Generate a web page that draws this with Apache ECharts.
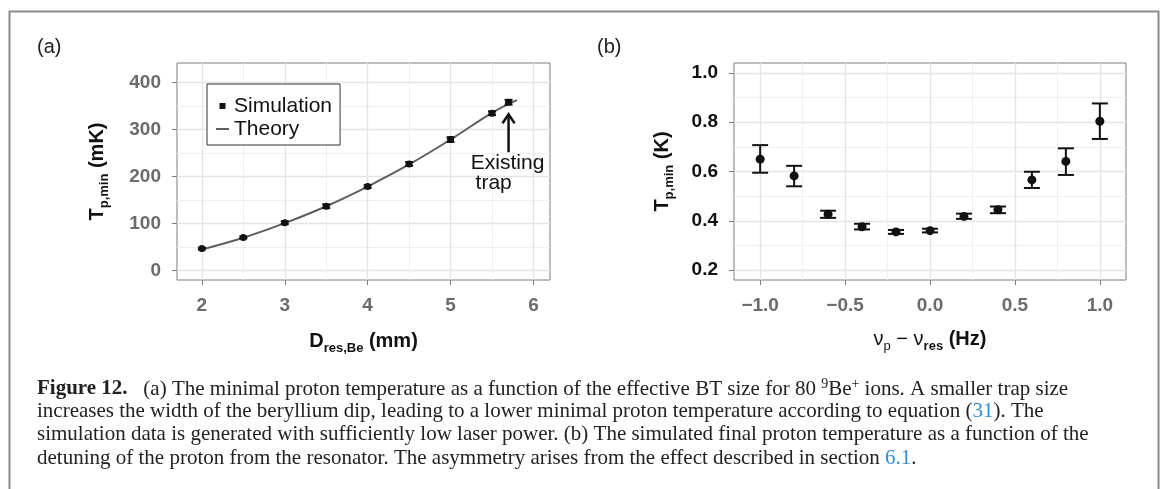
<!DOCTYPE html>
<html>
<head>
<meta charset="utf-8">
<script src="https://cdn.jsdelivr.net/npm/echarts@6/dist/echarts.min.js"></script>
<style>
  html, body { margin: 0; padding: 0; background: #fff; }
  #chart { width: 1163px; height: 489px; }
</style>
</head>
<body>
<div id="chart"></div>
<script>
// panel (a): minimal proton temperature vs trap size
const simX = [2, 2.5, 3, 3.5, 4, 4.5, 5, 5.5, 5.7];
const simY = [47, 70.5, 102, 137, 179, 227, 279, 335, 358.5];
const simErr = [2, 2, 3, 4, 3, 4, 5, 4, 5];
const theoryX = [2, 2.5, 3, 3.5, 4, 4.5, 5, 5.5, 5.8];
const theoryY = [45, 70, 101, 137, 179, 226, 279, 336, 363];
const arrowAt = [5.7, 252, 333]; // x, shaft bottom, tip

// panel (b): temperature vs detuning
const detX = [-1.0, -0.8, -0.6, -0.4, -0.2, 0.0, 0.2, 0.4, 0.6, 0.8, 1.0];
const detY = [0.650, 0.582, 0.427, 0.376, 0.355, 0.360, 0.418, 0.445, 0.566, 0.641, 0.804];
const detLo = [0.595, 0.540, 0.412, 0.365, 0.347, 0.353, 0.408, 0.431, 0.533, 0.586, 0.732];
const detHi = [0.707, 0.623, 0.441, 0.388, 0.363, 0.368, 0.429, 0.458, 0.599, 0.694, 0.876];

const ticksAX = [2, 3, 4, 5, 6];
const minorAX = [2.5, 3.5, 4.5, 5.5];
const ticksAY = [0, 100, 200, 300, 400];
const minorAY = [50, 150, 250, 350];
const ticksBX = [-1, -0.5, 0, 0.5, 1];
const minorBX = [-0.75, -0.25, 0.25, 0.75];
const ticksBY = [0.2, 0.4, 0.6, 0.8, 1.0];
const minorBY = [0.3, 0.5, 0.7, 0.9];

const SANS = "'Liberation Sans', Arial, sans-serif";
const SERIF = "'Liberation Serif', 'Times New Roman', serif";
const INK = '#111';
const GRAYTXT = '#6b6b6b';
const MAJ = '#e4e4e4';
const MIN = '#efefef';
const CAP = 21;

const chart = echarts.init(document.getElementById('chart'), null, { renderer: 'canvas' });

function mainAxis(gridIndex, min, max, ticks, labelColor, fmt, extra) {
  return Object.assign({
    type: 'value', gridIndex: gridIndex, min: min, max: max,
    axisLine: { show: false, onZero: false },
    axisTick: { show: true, length: 5, customValues: ticks, lineStyle: { color: '#7a7a7a', width: 1 } },
    axisLabel: { customValues: ticks, margin: 16, color: labelColor, fontSize: 19, fontWeight: 'bold', fontFamily: SANS, formatter: fmt },
    splitLine: { show: true, lineStyle: { color: MAJ, width: 1.3 } }
  }, extra);
}
function minorAxis(gridIndex, min, max, ticks) {
  return {
    type: 'value', gridIndex: gridIndex, min: min, max: max,
    axisLine: { show: false, onZero: false },
    axisTick: { show: false, customValues: ticks },
    axisLabel: { show: false, customValues: ticks },
    splitLine: { show: true, lineStyle: { color: MIN, width: 1 } }
  };
}

const fmtB = (v) => (v < 0 ? '\u2212' + Math.abs(v).toFixed(1) : v.toFixed(1));

const subStyle = { fontSize: 13, fontWeight: 'bold', fontFamily: SANS, color: INK, padding: [14, 0, 0, 0] };
const mainStyle = { fontSize: 20, fontWeight: 'bold', fontFamily: SANS, color: INK, lineHeight: 26 };
const normStyle = { fontSize: 20, fontWeight: 'normal', fontFamily: SANS, color: INK, lineHeight: 26 };
const subNorm = { fontSize: 13, fontWeight: 'normal', fontFamily: SANS, color: INK, padding: [14, 0, 0, 0] };

function errRender(capHalf) {
  return function (params, api) {
    const x = api.value(0);
    const pLo = api.coord([x, api.value(1)]);
    const pHi = api.coord([x, api.value(2)]);
    const st = { stroke: INK, lineWidth: 2 };
    return {
      type: 'group',
      children: [
        { type: 'line', shape: { x1: pLo[0], y1: pLo[1], x2: pHi[0], y2: pHi[1] }, style: st },
        { type: 'line', shape: { x1: pLo[0] - capHalf, y1: pLo[1], x2: pLo[0] + capHalf, y2: pLo[1] }, style: st },
        { type: 'line', shape: { x1: pHi[0] - capHalf, y1: pHi[1], x2: pHi[0] + capHalf, y2: pHi[1] }, style: st }
      ]
    };
  };
}

function captionLine(top, text) {
  return {
    type: 'text', left: 37, top: top,
    style: {
      text: text, font: CAP + 'px ' + SERIF, fill: '#222',
      rich: {
        b: { fontWeight: 'bold', fontSize: CAP, fontFamily: SERIF, fill: '#222' },
        sp: { fontSize: 14, fontFamily: SERIF, fill: '#222', padding: [0, 0, 10, 0] },
        l: { fontSize: CAP, fontFamily: SERIF, fill: '#2c8fd6' }
      }
    }
  };
}

const option = {
  animation: false,
  backgroundColor: '#fff',
  grid: [
    { left: 177, top: 63, width: 373, height: 217, show: true, borderColor: '#7f7f7f', borderWidth: 1, backgroundColor: 'transparent' },
    { left: 734, top: 63, width: 392, height: 217, show: true, borderColor: '#7f7f7f', borderWidth: 1, backgroundColor: 'transparent' }
  ],
  xAxis: [
    mainAxis(0, 1.7, 6.2, ticksAX, GRAYTXT, (v) => String(v), {
      name: '{t|D}{s|res,Be}{t| (mm)}', nameLocation: 'middle', nameGap: 48,
      nameTextStyle: { rich: { t: mainStyle, s: subStyle } }
    }),
    minorAxis(0, 1.7, 6.2, minorAX),
    mainAxis(1, -1.154, 1.154, ticksBX, GRAYTXT, fmtB, {
      name: '{n|\u03bd}{ns|p}{n| \u2212 \u03bd}{s|res}{t| (Hz)}', nameLocation: 'middle', nameGap: 46,
      nameTextStyle: { rich: { t: mainStyle, s: subStyle, n: normStyle, ns: subNorm } }
    }),
    minorAxis(1, -1.154, 1.154, minorBX)
  ],
  yAxis: [
    mainAxis(0, -20, 442, ticksAY, GRAYTXT, (v) => String(v), {
      name: '{t|T}{s|p,min}{t| (mK)}', nameLocation: 'middle', nameGap: 66,
      nameTextStyle: { rich: { t: mainStyle, s: subStyle } }
    }),
    minorAxis(0, -20, 442, minorAY),
    mainAxis(1, 0.16, 1.04, ticksBY, INK, (v) => v.toFixed(1), {
      name: '{t|T}{s|p,min}{t| (K)}', nameLocation: 'middle', nameGap: 58,
      nameTextStyle: { rich: { t: mainStyle, s: subStyle } }
    }),
    minorAxis(1, 0.16, 1.04, minorBY)
  ],
  legend: {
    orient: 'vertical', left: 207, top: 84,
    data: [
      { name: 'Simulation', icon: 'path://M0,0h10v10h-10z' },
      { name: 'Theory', icon: 'path://M0,0h26v4h-26z' }
    ],
    symbolKeepAspect: true,
    itemWidth: 13, itemHeight: 6, itemGap: 1,
    padding: [11, 8, 5, 9],
    backgroundColor: '#fff', borderColor: '#333', borderWidth: 1, borderRadius: 0,
    textStyle: { fontSize: 21, fontFamily: SANS, color: INK, lineHeight: 22 },
    selectedMode: false
  },
  graphic: [
    { type: 'rect', left: 7, top: 9, shape: { width: 1149, height: 495 }, style: { fill: 'none', stroke: '#8a8a8a', lineWidth: 2 }, silent: true },
    { type: 'text', left: 37, top: 37, style: { text: '(a)', font: "normal 20px 'Liberation Sans', Arial, sans-serif", fill: '#222' } },
    { type: 'text', left: 597, top: 37, style: { text: '(b)', font: "normal 20px 'Liberation Sans', Arial, sans-serif", fill: '#222' } },
    captionLine(377, '{b|Figure 12.}   (a) The minimal proton temperature as a function of the effective BT size for 80 {sp|9}Be{sp|+} ions. A smaller trap size'),
    captionLine(400.5, 'increases the width of the beryllium dip, leading to a lower minimal proton temperature according to equation ({l|31}). The'),
    captionLine(424, 'simulation data is generated with sufficiently low laser power. (b) The simulated final proton temperature as a function of the'),
    captionLine(448, 'detuning of the proton from the resonator. The asymmetry arises from the effect described in section {l|6.1}.')
  ],
  series: [
    {
      name: 'Theory', type: 'line', xAxisIndex: 0, yAxisIndex: 0,
      data: theoryX.map((x, i) => [x, theoryY[i]]),
      smooth: 0.4, symbol: 'none', showSymbol: false,
      lineStyle: { color: '#5e5e5e', width: 2 }, itemStyle: { color: '#5e5e5e' }, z: 3
    },
    {
      type: 'custom', xAxisIndex: 0, yAxisIndex: 0,
      data: simX.map((x, i) => [x, simY[i] - simErr[i], simY[i] + simErr[i]]),
      renderItem: errRender(4), encode: { x: 0, y: [1, 2] }, z: 4
    },
    {
      name: 'Simulation', type: 'scatter', xAxisIndex: 0, yAxisIndex: 0,
      data: simX.map((x, i) => [x, simY[i]]),
      symbol: 'circle', symbolSize: 7, itemStyle: { color: INK, opacity: 1 }, z: 5
    },
    {
      type: 'custom', xAxisIndex: 0, yAxisIndex: 0,
      data: [arrowAt],
      encode: { x: 0, y: [1, 2] }, z: 6,
      renderItem: function (params, api) {
        const x = api.value(0);
        const pB = api.coord([x, api.value(1)]);
        const pT = api.coord([x, api.value(2)]);
        const st = { stroke: '#111', lineWidth: 2.5 };
        return {
          type: 'group',
          children: [
            { type: 'line', shape: { x1: pB[0], y1: pB[1], x2: pT[0], y2: pT[1] }, style: st },
            { type: 'polyline', shape: { points: [[pT[0] - 6, pT[1] + 9], [pT[0], pT[1]], [pT[0] + 6, pT[1] + 9]] }, style: Object.assign({ fill: 'none' }, st) },
            { type: 'text', x: pB[0] - 1, y: pB[1] + 11, style: { text: 'Existing', font: "21px 'Liberation Sans', Arial, sans-serif", fill: '#111', align: 'center', verticalAlign: 'middle' } },
            { type: 'text', x: pB[0] - 33, y: pB[1] + 31, style: { text: 'trap', font: "21px 'Liberation Sans', Arial, sans-serif", fill: '#111', align: 'left', verticalAlign: 'middle' } }
          ]
        };
      }
    },
    {
      type: 'custom', xAxisIndex: 2, yAxisIndex: 2,
      data: detX.map((x, i) => [x, detLo[i], detHi[i]]),
      renderItem: errRender(8), encode: { x: 0, y: [1, 2] }, z: 4
    },
    {
      type: 'scatter', xAxisIndex: 2, yAxisIndex: 2,
      data: detX.map((x, i) => [x, detY[i]]),
      symbol: 'circle', symbolSize: 9, itemStyle: { color: INK, opacity: 1 }, z: 5
    }
  ]
};

chart.setOption(option);
</script>
</body>
</html>
